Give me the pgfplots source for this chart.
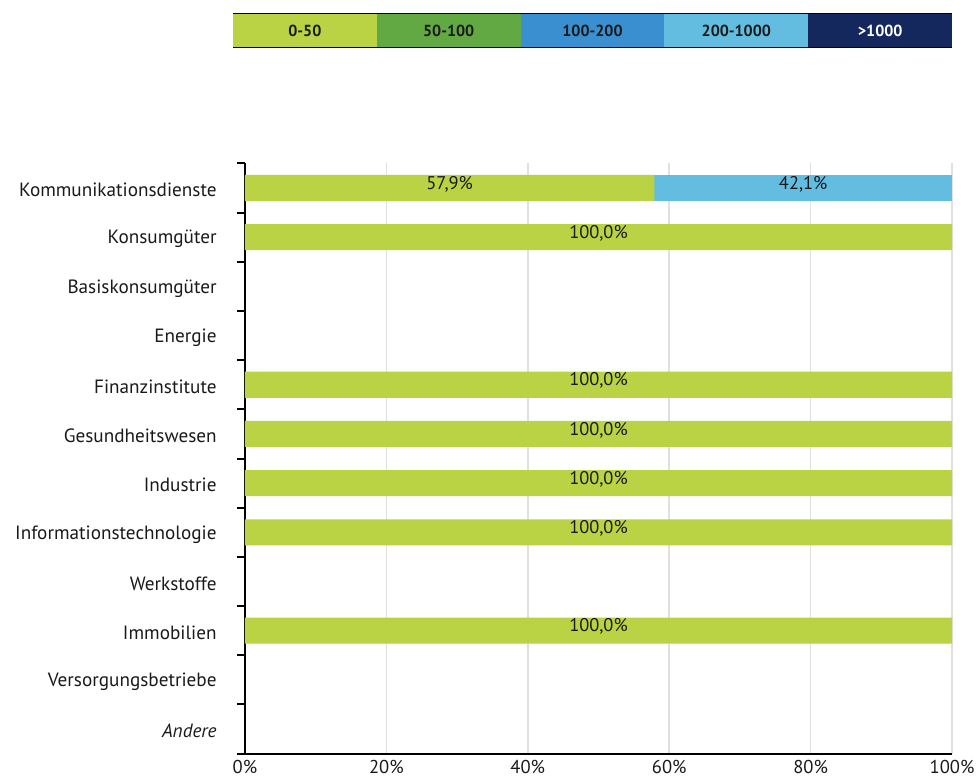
\documentclass[border=0pt]{standalone}
\usepackage{pgfplots}
\pgfplotsset{compat=1.18}
\usepackage{pgfplotstable}
\usepackage{fontspec}
\setmainfont{PT Sans}
\definecolor{cA}{HTML}{B9D344}
\definecolor{cB}{HTML}{62A843}
\definecolor{cC}{HTML}{3A8FD0}
\definecolor{cD}{HTML}{63BDE0}
\definecolor{cE}{HTML}{15285E}
\definecolor{txt}{HTML}{1A1A1A}
\pgfplotstableread{
y a d
11 57.9 42.1
10 100 0
9 0 0
8 0 0
7 100 0
6 100 0
5 100 0
4 100 0
3 0 0
2 100 0
1 0 0
0 0 0
}\datatable
% label positions: middle of each segment, value shown
\pgfplotstableread{
x y v
28.95 11 57.9
78.95 11 42.1
50 10 100
50 7 100
50 6 100
50 5 100
50 4 100
50 2 100
}\labeltable
\begin{document}
\begin{tikzpicture}
\pgfplotsset{common/.style={
  width=353.5pt, height=295.1pt, scale only axis,
  xmin=0, xmax=100, ymin=-0.5, ymax=11.5, clip=false}}
\begin{axis}[
  common,
  xbar stacked, bar width=0.53,
  axis lines*=left,
  axis line style={black, line width=1pt},
  xtick={0,20,...,100},
  xticklabels={0\%,20\%,40\%,60\%,80\%,100\%},
  ytick={0,...,11},
  yticklabels={{\itshape Andere},Versorgungsbetriebe,Immobilien,Werkstoffe,Informationstechnologie,Industrie,Gesundheitswesen,Finanzinstitute,Energie,Basiskonsumgüter,Konsumgüter,Kommunikationsdienste},
  minor ytick={-0.5,0.5,...,11.5},
  major tick length=0pt,
  minor tick length=4pt,
  tick align=outside,
  tick style={black, line width=1pt},
  xmajorgrids,
  grid style={color=black!12, line width=0.75pt},
  y tick label style={font=\fontsize{9.6}{10}\selectfont, color=txt, inner sep=0pt, xshift=-14pt, yshift=-1pt},
  x tick label style={font=\fontsize{9.3}{10}\selectfont, color=txt, inner sep=0pt, yshift=-3pt},
]
\addplot[fill=cA, draw=none] table[x=a, y=y] {\datatable};
\addplot[fill=cD, draw=none] table[x=d, y=y] {\datatable};
% legend
\fill[cA] (rel axis cs:-0.01697,1.1972) rectangle (rel axis cs:0.18643,1.2531);
\fill[cB] (rel axis cs:0.18643,1.1972) rectangle (rel axis cs:0.38983,1.2531);
\fill[cC] (rel axis cs:0.38983,1.1972) rectangle (rel axis cs:0.59323,1.2531);
\fill[cD] (rel axis cs:0.59323,1.1972) rectangle (rel axis cs:0.79663,1.2531);
\fill[cE] (rel axis cs:0.79663,1.1972) rectangle (rel axis cs:1,1.2531);
\draw[black, line width=0.6pt] (rel axis cs:-0.01697,1.2531) -- (rel axis cs:1,1.2531);
\draw[black, line width=0.6pt] (rel axis cs:-0.01697,1.1972) -- (rel axis cs:1,1.1972);
\path (rel axis cs:-0.3465,-0.0413) rectangle (rel axis cs:1.0339,1.2769);
\end{axis}
\begin{axis}[common, hide axis]
\addplot[draw=none, mark=none, point meta=explicit,
  nodes near coords={\pgfmathprintnumber[fixed,fixed zerofill,precision=1,use comma,assume math mode=true]{\pgfplotspointmeta}\%},
  every node near coord/.append style={font=\fontsize{9.2}{10}\selectfont, color=txt, anchor=center, yshift=2pt}]
  table[x=x, y=y, meta=v] {\labeltable};
\node[font=\bfseries\fontsize{8}{9}\selectfont, text=txt] at (rel axis cs:0.08473,1.22515) {0-50};
\node[font=\bfseries\fontsize{8}{9}\selectfont, text=txt] at (rel axis cs:0.28813,1.22515) {50-100};
\node[font=\bfseries\fontsize{8}{9}\selectfont, text=txt] at (rel axis cs:0.49153,1.22515) {100-200};
\node[font=\bfseries\fontsize{8}{9}\selectfont, text=txt] at (rel axis cs:0.69493,1.22515) {200-1000};
\node[font=\bfseries\fontsize{8}{9}\selectfont, text=white] at (rel axis cs:0.89831,1.22515) {>1000};
\end{axis}
\end{tikzpicture}
\end{document}
